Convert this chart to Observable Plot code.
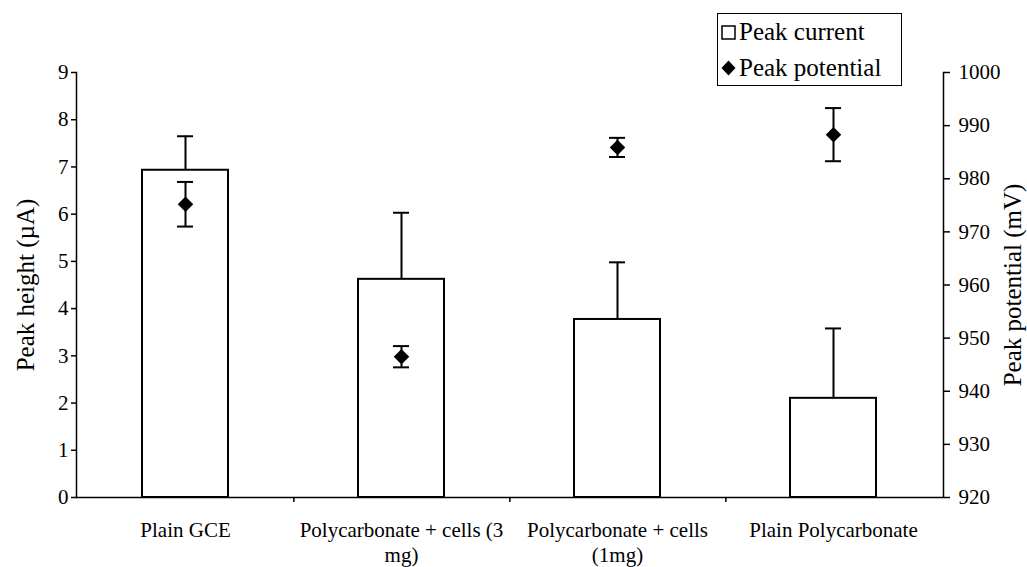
<!DOCTYPE html>
<html>
<head>
<meta charset="utf-8">
<script src="https://cdn.jsdelivr.net/npm/d3@7"></script>
<script src="https://cdn.jsdelivr.net/npm/@observablehq/plot@0.6"></script>
<style>
  body { margin: 0; background: #fff; }
  #wrap { position: relative; width: 1027px; height: 567px; font-family: "Liberation Serif", "Times New Roman", "DejaVu Serif", serif; background: #fff; }
  #wrap .layer { position: absolute; left: 0; top: 0; }
  #legend { position: absolute; left: 717px; top: 13px; width: 185px; height: 73px; border: 1.5px solid #000; background: #fff; box-sizing: border-box; font-size: 25px; color: #000; font-family: "Liberation Serif", "Times New Roman", serif; }
  #legend .row { position: absolute; left: 3px; height: 26px; display: flex; align-items: center; white-space: nowrap; }
  #legend .row svg { margin-right: 3px; }
</style>
</head>
<body>
<div id="wrap">
  <div id="legend">
    <div class="row" style="top:5px"><svg width="15" height="15"><rect x="1" y="1" width="13" height="13" fill="#fff" stroke="#000" stroke-width="1.5"></rect></svg><span>Peak current</span></div>
    <div class="row" style="top:41px"><svg width="15" height="16"><path d="M7.5,0.5 L14.5,8 L7.5,15.5 L0.5,8 Z" fill="#000"></path></svg><span>Peak potential</span></div>
  </div>
</div>
<script>
// ---- data ----
const categories = ["Plain GCE", "Polycarbonate + cells (3 mg)", "Polycarbonate + cells (1mg)", "Plain Polycarbonate"];
const tickLabels = ["Plain GCE", "Polycarbonate + cells (3\nmg)", "Polycarbonate + cells\n(1mg)", "Plain Polycarbonate"];
const peakCurrent = [6.93, 4.62, 3.77, 2.10];
const currentErr = [0.72, 1.41, 1.21, 1.48];
const peakPotential = [975.2, 946.5, 985.9, 988.3];
const potentialErr = [4.2, 2.0, 1.8, 5.0];
const leftTicks = [0, 1, 2, 3, 4, 5, 6, 7, 8, 9];
const rightTicks = [920, 930, 940, 950, 960, 970, 980, 990, 1000];
const leftTitle = "Peak height (µA)";
const rightTitle = "Peak potential (mV)";

const rows = categories.map((c, i) => ({
  cat: c, cur: peakCurrent[i], ce: currentErr[i], pot: peakPotential[i], pe: potentialErr[i]
}));

const FONT = '"Liberation Serif", "Times New Roman", serif';
const W = 1027, H = 567;
const mL = 76, mR = 84, mT = 72, mB = 70;
const step = (W - mL - mR) / categories.length;
const xOpts = {type: "band", domain: categories, paddingInner: 0.6, paddingOuter: 0.3, axis: null};
const common = {
  width: W, height: H, marginLeft: mL, marginRight: mR, marginTop: mT, marginBottom: mB,
  style: {fontFamily: FONT, fontSize: "21px", background: "transparent", color: "#000", overflow: "visible"}
};
const capInset = 35;

const p1 = Plot.plot({
  ...common,
  x: xOpts,
  y: {domain: [0, 9], axis: null},
  marks: [
    Plot.barY(rows, {x: "cat", y: "cur", fill: "white", stroke: "black", strokeWidth: 2}),
    Plot.ruleX(rows, {x: "cat", y1: "cur", y2: d => d.cur + d.ce, stroke: "black", strokeWidth: 2}),
    Plot.tickY(rows, {x: "cat", y: d => d.cur + d.ce, stroke: "black", strokeWidth: 2, insetLeft: capInset, insetRight: capInset}),
    Plot.ruleY([0], {stroke: "black", strokeWidth: 1.5}),
    Plot.frame({anchor: "left", stroke: "black", strokeWidth: 1.5}),
    Plot.axisY({anchor: "left", ticks: leftTicks, tickSize: 5, tickPadding: 3, fontSize: 21, tickFormat: d => String(d), label: null, stroke: "black", strokeWidth: 1.5, fontFamily: FONT}),
    Plot.axisX({anchor: "bottom", tickSize: 0, tickPadding: 21, lineHeight: 1.22, fontSize: 21, fontFamily: FONT, tickFormat: d => tickLabels[categories.indexOf(d)], label: null}),
    Plot.axisX({anchor: "bottom", ticks: categories.slice(0, 3), tickSize: 5, tickFormat: () => "", dx: step / 2, label: null, strokeWidth: 1.5}),
    Plot.text([leftTitle], {frameAnchor: "left", rotate: -90, dx: -51, fontSize: 25, fontFamily: FONT, textAnchor: "middle", text: d => d})
  ]
});

const p2 = Plot.plot({
  ...common,
  x: xOpts,
  y: {domain: [920, 1000], axis: null},
  marks: [
    Plot.frame({anchor: "right", stroke: "black", strokeWidth: 1.5}),
    Plot.axisY({anchor: "right", ticks: rightTicks, tickSize: 6, tickPadding: 9, fontSize: 21, tickFormat: d => String(d), label: null, strokeWidth: 1.5, fontFamily: FONT}),
    Plot.ruleX(rows, {x: "cat", y1: d => d.pot - d.pe, y2: d => d.pot + d.pe, stroke: "black", strokeWidth: 2}),
    Plot.tickY(rows, {x: "cat", y: d => d.pot - d.pe, stroke: "black", strokeWidth: 2, insetLeft: capInset, insetRight: capInset}),
    Plot.tickY(rows, {x: "cat", y: d => d.pot + d.pe, stroke: "black", strokeWidth: 2, insetLeft: capInset, insetRight: capInset}),
    Plot.dot(rows, {x: "cat", y: "pot", symbol: "diamond2", r: 7, fill: "black", stroke: "none"}),
    Plot.text([rightTitle], {frameAnchor: "right", rotate: -90, dx: 69, fontSize: 25, fontFamily: FONT, textAnchor: "middle", text: d => d})
  ]
});

p1.classList.add("layer");
p2.classList.add("layer");
const wrap = document.getElementById("wrap");
const legend = document.getElementById("legend");
wrap.insertBefore(p1, legend);
wrap.insertBefore(p2, legend);
</script>
</body>
</html>
